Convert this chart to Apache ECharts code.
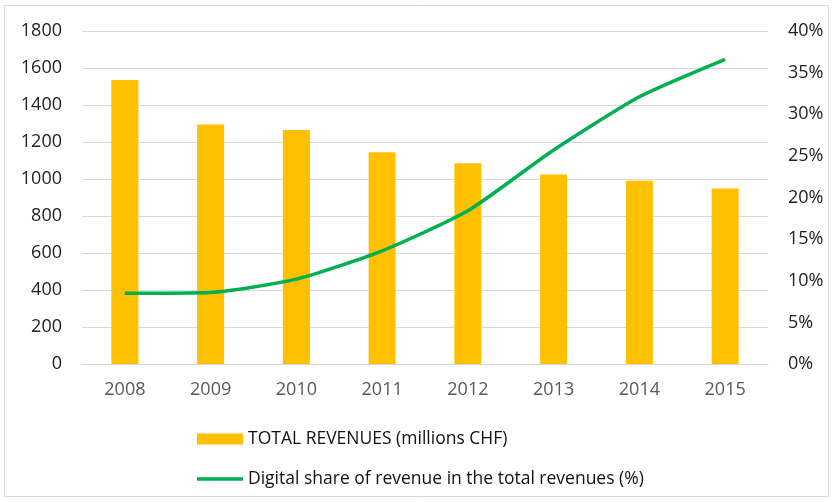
<!DOCTYPE html>
<html>
<head>
<meta charset="utf-8">
<script src="https://cdn.jsdelivr.net/npm/echarts@6/dist/echarts.min.js"></script>
<style>
  html, body { margin: 0; padding: 0; background: #fff; }
  #main { width: 833px; height: 502px; }
</style>
</head>
<body>
<div id="main"></div>
<script>
const years = ['2008', '2009', '2010', '2011', '2012', '2013', '2014', '2015'];
const revenues = [1535, 1295, 1265, 1145, 1085, 1025, 990, 948];
const digitalShare = [8.5, 8.6, 10.2, 13.6, 18.4, 25.7, 32.1, 36.6];

const revenueName = 'TOTAL REVENUES (millions CHF)';
const shareName = 'Digital share of revenue in the total revenues (%)';
const FONT = '"Open Sans", sans-serif';

const chart = echarts.init(document.getElementById('main'));

chart.setOption({
    animation: false,
    backgroundColor: '#fff',
    textStyle: { fontFamily: FONT },
    graphic: [{
        type: 'rect',
        shape: { x: 4.5, y: 5.5, width: 824, height: 491 },
        style: { fill: 'none', stroke: '#D9D9D9', lineWidth: 1 },
        silent: true
    }],
    grid: { left: 82, right: 65, top: 31, bottom: 138 },
    legend: {
        orient: 'vertical',
        left: 192,
        top: 425,
        itemWidth: 46,
        itemHeight: 11,
        itemGap: 22,
        textStyle: { fontFamily: FONT, fontSize: 17.5, color: '#111' },
        data: [
            { name: revenueName, icon: 'rect' },
            { name: shareName, icon: 'path://M0,0L46,0L46,3.5L0,3.5Z' }
        ]
    },
    xAxis: {
        type: 'category',
        data: years,
        axisLine: { show: true, lineStyle: { color: '#D9D9D9' } },
        axisTick: { show: false },
        axisLabel: { color: '#595959', fontSize: 18, margin: 17 }
    },
    yAxis: [{
        type: 'value',
        min: 0,
        max: 1800,
        interval: 200,
        axisLine: { show: false },
        axisTick: { show: false },
        splitLine: { lineStyle: { color: '#D9D9D9' } },
        axisLabel: { color: '#222', fontSize: 18, margin: 20, formatter: v => String(v) }
    }, {
        type: 'value',
        min: 0,
        max: 40,
        interval: 5,
        axisLine: { show: false },
        axisTick: { show: false },
        splitLine: { show: false },
        axisLabel: { color: '#222', fontSize: 18, margin: 20, formatter: '{value}%' }
    }],
    series: [{
        name: revenueName,
        type: 'bar',
        data: revenues,
        barWidth: 27,
        itemStyle: { color: '#FFC000' }
    }, {
        name: shareName,
        type: 'line',
        yAxisIndex: 1,
        data: digitalShare,
        symbol: 'none',
        smooth: 0.2,
        lineStyle: { color: '#00B050', width: 3.5 },
        itemStyle: { color: '#00B050' }
    }]
});
</script>
</body>
</html>
